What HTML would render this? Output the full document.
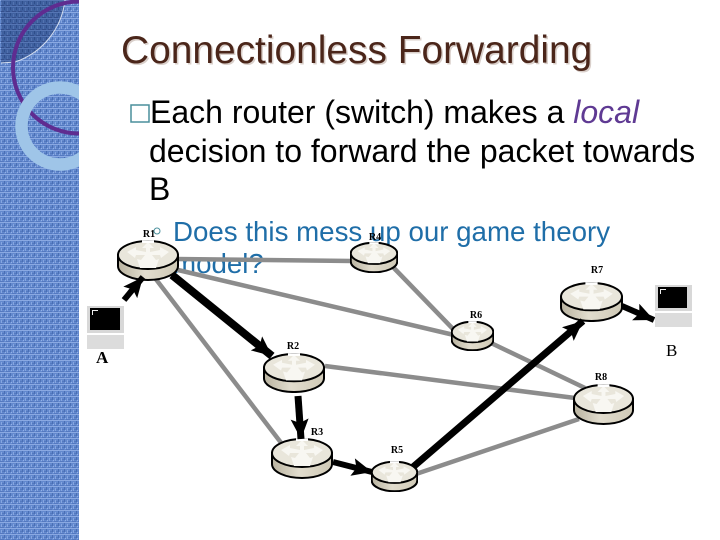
<!DOCTYPE html>
<html><head><meta charset="utf-8"><style>
html,body{margin:0;padding:0;background:#fff;width:720px;height:540px;overflow:hidden}
svg{display:block}
.s{font-family:"Liberation Sans",sans-serif}
.l{font-family:"Liberation Serif",serif;font-weight:bold;font-size:10px;fill:#000;text-anchor:middle}
.g line{stroke:#8c8c8c;stroke-width:4.5}
.k line{stroke:#000;stroke-width:6;marker-end:url(#ah)}
</style></head><body>
<svg width="720" height="540" viewBox="0 0 720 540" xmlns="http://www.w3.org/2000/svg">
<defs>
<pattern id="tx" width="6" height="6" patternUnits="userSpaceOnUse">
<rect width="6" height="6" fill="#6389ce"/>
<rect x="0" y="0" width="6" height="1" fill="#8aa9e2"/>
<rect x="1" y="2" width="1" height="4" fill="#86a6e0"/>
<rect x="4" y="1" width="1" height="3" fill="#4a6fb4"/>
<rect x="2" y="3" width="2" height="1" fill="#5379bf"/>
<rect x="0" y="5" width="4" height="1" fill="#5479c0"/>
<rect x="5" y="4" width="1" height="1" fill="#94b1e6"/>
</pattern>
<pattern id="tx2" width="6" height="6" patternUnits="userSpaceOnUse">
<rect width="6" height="6" fill="#3f609f"/>
<rect x="0" y="0" width="6" height="1" fill="#5575b4"/>
<rect x="1" y="2" width="1" height="4" fill="#5373b0"/>
<rect x="4" y="1" width="1" height="3" fill="#2f4e8a"/>
<rect x="0" y="5" width="4" height="1" fill="#344f8c"/>
</pattern>
<clipPath id="side"><rect width="79" height="540"/></clipPath>
<linearGradient id="body" x1="0" x2="1" y1="0" y2="0">
<stop offset="0" stop-color="#b9b3a0"/><stop offset=".45" stop-color="#e2ddce"/><stop offset="1" stop-color="#cfc9b6"/>
</linearGradient>
<symbol id="rt" viewBox="0 0 62 41" preserveAspectRatio="none">
<path d="M1,15 V26 A30,14 0 0 0 61,26 V15 Z" fill="url(#body)" stroke="#000" stroke-width="2" vector-effect="non-scaling-stroke"/>
<ellipse cx="31" cy="15" rx="30" ry="14" fill="#e9e6db" stroke="#000" stroke-width="2" vector-effect="non-scaling-stroke"/>
<path d="M31,2 L37,8 L33,8 L33,12 L43,10 L43,7 L52,12 L44,18 L43,15 L35,15 L39,20 L42,19 L39,28 L23,28 L20,19 L24,20 L28,15 L19,15 L18,18 L10,12 L19,7 L19,10 L29,12 L29,8 L25,8 Z" fill="#f8f7f2"/>
<path d="M25,0.2 H37 V3 H25 Z" fill="#fff"/>
</symbol>
<marker id="ah" markerUnits="userSpaceOnUse" markerWidth="22" markerHeight="20" refX="20" refY="10" orient="auto">
<path d="M0,1 L20,10 L0,19 L4,10 Z" fill="#000"/>
</marker>
</defs>

<rect width="720" height="540" fill="#fff"/>

<g clip-path="url(#side)">
<rect width="79" height="540" fill="url(#tx)"/>
<path d="M1,0 H65 A74,74 0 0 1 15,62 L1,63 Z" fill="url(#tx2)"/>
<path d="M65,0 A74,74 0 0 1 15,62 L1,63" fill="none" stroke="#d5dff0" stroke-width="1"/>
<circle cx="79" cy="67.5" r="66" fill="none" stroke="#5f2c90" stroke-width="4"/>
<circle cx="60" cy="126" r="38.5" fill="none" stroke="#9fc5e8" stroke-width="12.5"/>
</g>

<text class="s" x="121" y="63" font-size="38.9" fill="#d9cfca" dx="1.5" dy="1.5">Connectionless Forwarding</text>
<text class="s" x="121" y="63" font-size="38.9" fill="#4b261a">Connectionless Forwarding</text>

<rect x="131" y="105" width="18" height="17" fill="none" stroke="#4a8f9c" stroke-width="1.5"/>
<text class="s" x="150" y="123" font-size="32" fill="#000">Each router (switch) makes a <tspan font-style="italic" fill="#5f3a93">local</tspan></text>
<text class="s" x="149" y="162" font-size="32" fill="#000">decision to forward the packet towards</text>
<text class="s" x="149" y="200" font-size="32" fill="#000">B</text>

<circle cx="157" cy="231" r="3" fill="none" stroke="#4a8f9c" stroke-width="1"/>
<text class="s" x="173" y="241" font-size="27.7" fill="#1f6ea8">Does this mess up our game theory</text>
<text class="s" x="173" y="273" font-size="27.7" fill="#1f6ea8">model?</text>

<g class="g">
<line x1="176" y1="259" x2="352" y2="261"/>
<line x1="178" y1="270" x2="454" y2="335"/>
<line x1="155" y1="278" x2="282" y2="444"/>
<line x1="391" y1="265" x2="454" y2="330"/>
<line x1="325" y1="366" x2="575" y2="398"/>
<line x1="416" y1="474" x2="579" y2="419"/>
<line x1="491" y1="343" x2="585" y2="388"/>
</g>

<use href="#rt" x="117" y="240" width="62" height="41"/>
<use href="#rt" x="263" y="353" width="62" height="40"/>
<use href="#rt" x="271" y="438" width="62" height="41"/>
<use href="#rt" x="371" y="461" width="47" height="31"/>
<use href="#rt" x="350" y="242" width="48" height="31"/>
<use href="#rt" x="451" y="321" width="43" height="30"/>
<use href="#rt" x="560" y="282" width="63" height="40"/>
<use href="#rt" x="573" y="384" width="61" height="41"/>

<g class="k">
<line x1="124" y1="300" x2="143" y2="277"/>
<line x1="172" y1="275" x2="272" y2="356" style="stroke-width:8"/>
<line x1="298" y1="396" x2="301" y2="439" style="stroke-width:7"/>
<line x1="333" y1="462" x2="372" y2="472"/>
<line x1="413" y1="467" x2="583" y2="321" style="stroke-width:7"/>
<line x1="622" y1="306" x2="654" y2="320"/>
</g>

<rect x="87" y="306" width="37" height="27" fill="#d8d8d8"/>
<rect x="90" y="308" width="30" height="22" fill="#000"/>
<path d="M92.5,315 V310.5 H98" fill="none" stroke="#eee" stroke-width="1"/>
<rect x="87" y="335" width="37" height="14" fill="#dcdcdc"/>

<rect x="655" y="285" width="37" height="26" fill="#d8d8d8"/>
<rect x="658" y="287" width="29" height="21" fill="#000"/>
<path d="M660.5,294 V289.5 H666" fill="none" stroke="#eee" stroke-width="1"/>
<rect x="655" y="313" width="37" height="14" fill="#dcdcdc"/>

<text x="96" y="363" font-family="Liberation Serif,serif" font-size="17" font-weight="bold" fill="#000">A</text>
<text x="666" y="356" font-family="Liberation Serif,serif" font-size="17" fill="#000">B</text>

<text class="l" x="149" y="237">R1</text>
<text class="l" x="293" y="349">R2</text>
<text class="l" x="317" y="435">R3</text>
<text class="l" x="375" y="240">R4</text>
<text class="l" x="397" y="453">R5</text>
<text class="l" x="476" y="318">R6</text>
<text class="l" x="597" y="273">R7</text>
<text class="l" x="601" y="380">R8</text>
</svg>
</body></html>
